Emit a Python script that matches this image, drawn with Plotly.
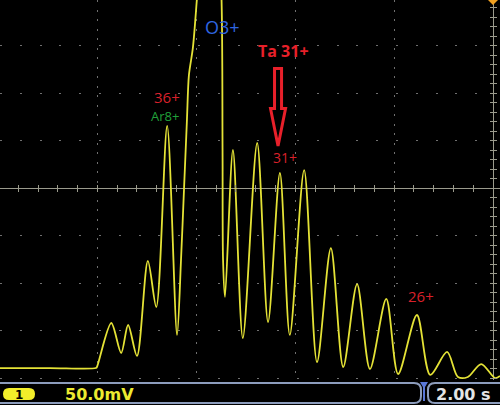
import plotly.graph_objects as go

# ---- data (time in s, signal in mV) ----
time_s = [-9.97, -8.96, -8.03, -8.01, -7.72, -7.52, -7.38, -7.20, -6.98, -6.81,
          -6.59, -6.39, -6.31, -6.25, -6.19, -6.15, -6.07, -5.99, -5.85, -5.72,
          -5.58, -5.49, -5.47, -5.46, -5.42, -5.26, -5.06, -4.77, -4.55, -4.31,
          -4.11, -3.82, -3.56, -3.28, -3.03, -2.75, -2.49, -2.16, -1.92, -1.54,
          -1.27, -0.93, -0.71, -0.51, -0.24, 0.04, 0.14]
signal_mv = [-189.5, -189.5, -189.5, -188.4, -142.1, -173.7, -144.2, -176.8, -76.8, -125.3,
             65.3, -154.7, -75.8, -2.1, 71.6, 118.9, 147.4, 197.9, 300.0, 340.0,
             300.0, 197.9, 40.0, -75.8, -114.7, 40.0, -157.9, 47.4, -141.1, 15.8,
             -154.7, 18.9, -183.2, -63.2, -188.4, -101.1, -190.5, -116.8, -195.8, -133.7,
             -196.8, -172.6, -198.9, -198.9, -185.3, -200.0, -197.9]

# peak labels: text, time, mV, colour, size, bold
label_text = ["O3+", "Ta 31+", "31+", "36+", "Ar8+", "26+"]
label_t = [-5.48, -4.23, -4.21, -6.59, -6.63, -1.46]
label_v = [169.5, 144.2, 31.6, 95.8, 75.8, -113.7]
label_color = ["#2f66e0", "#e8202a", "#d8202a", "#d8202a", "#21a03a", "#d8202a"]
label_size = [18, 16, 14, 15, 13, 15]
label_bold = [False, True, False, False, False, False]

volts_per_div = "50.0mV"
time_per_div = "2.00 s"
channel = "1"

X_RANGE = [-9.97, 0.14]
Y_RANGE = [-202.1, 197.9]
W, H = 500, 405


def px(x):
    return x / W


def py(y):
    return (H - y) / H


fig = go.Figure()
fig.add_trace(go.Scatter(
    x=time_s, y=signal_mv, mode="lines",
    line=dict(color="#e4e236", width=1.8, shape="spline", smoothing=0.85),
    hoverinfo="skip", showlegend=False))

# dummy traces so that the overlay tick axes are drawn
for xa, ya in [("x2", "y"), ("x3", "y"), ("x", "y2"), ("x", "y3")]:
    fig.add_trace(go.Scatter(x=[None], y=[None], xaxis=xa, yaxis=ya,
                             showlegend=False, hoverinfo="skip"))

grid_col = "#707070"
center_col = "#9a9a8c"
ydom = [py(380), 1]

fig.update_layout(
    width=W, height=H,
    margin=dict(l=0, r=0, t=0, b=0),
    paper_bgcolor="black", plot_bgcolor="black",
    showlegend=False, hovermode=False,
    xaxis=dict(range=X_RANGE, domain=[0, 1], dtick=2, tick0=0,
               showgrid=True, gridcolor=grid_col, gridwidth=1, griddash="2px,7.5px",
               zeroline=True, zerolinecolor=center_col, zerolinewidth=1.2,
               showticklabels=False, ticks="", showline=False, fixedrange=True),
    yaxis=dict(range=Y_RANGE, domain=ydom, dtick=50, tick0=0,
               showgrid=True, gridcolor=grid_col, gridwidth=1, griddash="2px,17.8px",
               zeroline=True, zerolinecolor=center_col, zerolinewidth=1.4,
               showticklabels=False, ticks="", showline=False, fixedrange=True),
    xaxis2=dict(range=X_RANGE, overlaying="x", anchor="free", position=py(188),
                side="bottom", dtick=0.4, tick0=0, ticks="outside", ticklen=3,
                tickcolor=center_col, tickwidth=1, showgrid=False, zeroline=False,
                showticklabels=False, showline=False),
    xaxis3=dict(range=X_RANGE, overlaying="x", anchor="free", position=py(188),
                side="top", dtick=0.4, tick0=0, ticks="outside", ticklen=3,
                tickcolor=center_col, tickwidth=1, showgrid=False, zeroline=False,
                showticklabels=False, showline=False),
    yaxis2=dict(range=Y_RANGE, domain=ydom, overlaying="y", anchor="free", position=px(493),
                side="left", dtick=10, tick0=0, ticks="outside", ticklen=3,
                tickcolor=center_col, tickwidth=1, showgrid=False, zeroline=False,
                showticklabels=False, showline=False),
    yaxis3=dict(range=Y_RANGE, domain=ydom, overlaying="y", anchor="free", position=px(493),
                side="right", dtick=10, tick0=0, ticks="outside", ticklen=3,
                tickcolor=center_col, tickwidth=1, showgrid=False, zeroline=False,
                showticklabels=False, showline=False),
)

# peak labels
for txt, t, v, c, s, b in zip(label_text, label_t, label_v, label_color, label_size, label_bold):
    fig.add_annotation(x=t, y=v, xref="x", yref="y", showarrow=False,
                       xanchor="center", yanchor="middle",
                       text=f"<b>{txt}</b>" if b else txt,
                       font=dict(family="Open Sans", size=s, color=c))

# hollow red arrow pointing at the Ta 31+ peak
arrow = ("M -4.419,125.8 L -4.277,125.8 L -4.277,83.7 L -4.196,83.7 "
         "L -4.348,44.2 L -4.500,83.7 L -4.419,83.7 Z")
fig.add_shape(type="path", path=arrow, xref="x", yref="y",
              line=dict(color="#e8202a", width=3), fillcolor="black")

# trigger marker
fig.add_shape(type="path", xref="paper", yref="paper",
              path=f"M {px(488)},{py(0)} L {px(498)},{py(0)} L {px(493)},{py(5)} Z",
              line=dict(width=0), fillcolor="#f0a020")


def P(x, y):
    return f"{px(x)},{py(y)}"


# status bar boxes
box_col = "#8c9cbc"
left_box = (f"M {P(-5,383)} L {P(414,383)} Q {P(421,383)} {P(421,390)} "
            f"L {P(421,396)} Q {P(421,403)} {P(414,403)} L {P(-5,403)}")
fig.add_shape(type="path", path=left_box, xref="paper", yref="paper", layer="below",
              line=dict(color=box_col, width=2))
right_box = (f"M {P(505,383)} L {P(435,383)} Q {P(428,383)} {P(428,390)} "
             f"L {P(428,396)} Q {P(428,403)} {P(435,403)} L {P(505,403)}")
fig.add_shape(type="path", path=right_box, xref="paper", yref="paper", layer="below",
              line=dict(color=box_col, width=2))
# delay marker
fig.add_shape(type="path", xref="paper", yref="paper", layer="below",
              path=f"M {P(420,382)} L {P(428,382)} L {P(425,387)} L {P(425,401)} "
                   f"L {P(423,401)} L {P(423,387)} Z",
              line=dict(width=0), fillcolor="#5a78d8")
# channel pill
pill = (f"M {P(9,388)} L {P(29,388)} Q {P(35,388)} {P(35,394)} Q {P(35,400)} {P(29,400)} "
        f"L {P(9,400)} Q {P(3,400)} {P(3,394)} Q {P(3,388)} {P(9,388)} Z")
fig.add_shape(type="path", path=pill, xref="paper", yref="paper", layer="below",
              line=dict(width=0), fillcolor="#f2ee2a")

status = [(channel, 19, 12, "black"),
          (volts_per_div, 99, 16, "#ecea30"),
          (time_per_div, 463, 16, "#e4e4e4")]
for txt, cx, sz, col in status:
    fig.add_annotation(x=px(cx), y=py(394.5), xref="paper", yref="paper", showarrow=False,
                       xanchor="center", yanchor="middle", text=f"<b>{txt}</b>",
                       font=dict(family="DejaVu Sans", size=sz, color=col))

fig.write_html("out.html", config={"displayModeBar": False},
               post_script="document.body.style.margin='0px';document.body.style.background='black';")
